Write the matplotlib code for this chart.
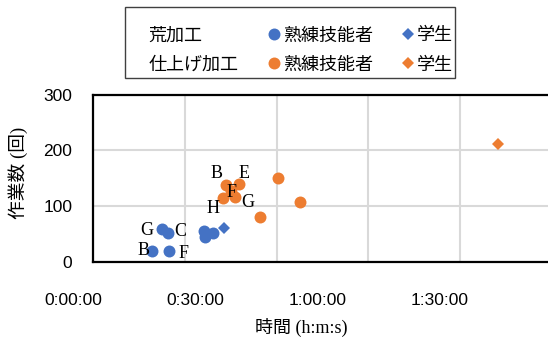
import matplotlib
matplotlib.use("Agg")
import matplotlib.pyplot as plt
from matplotlib.lines import Line2D
from matplotlib.patches import Rectangle
import numpy as np

# ------------------------------ Data ------------------------------

# times in minutes, counts in number of operations
rough_skilled_min = [21.8, 23.3, 19.4, 23.7, 32.2, 32.4, 34.4]
rough_skilled_cnt = [58, 51, 19, 19, 56, 45, 51]
rough_skilled_tags = ['G', 'C', 'B', 'F', '', '', '']

rough_student_min = [37.1]
rough_student_cnt = [60]

finish_skilled_min = [37.5, 40.8, 38.7, 36.9, 39.8, 50.3, 55.8, 45.9]
finish_skilled_cnt = [138, 140, 127, 115, 117, 151, 108, 81]
finish_skilled_tags = ['B', 'E', 'F', 'H', 'G', '', '', '']

finish_student_min = [104.4]
finish_student_cnt = [211]

time_ticks_min = [0, 30, 60, 90]
time_tick_labels = ['0:00:00', '0:30:00', '1:00:00', '1:30:00']
count_ticks = [0, 100, 200, 300]

BLUE = '#4472C4'
ORANGE = '#ED7D31'
CJK = ['Noto Sans CJK JP', 'DejaVu Sans']
SERIF_CJK = ['Liberation Serif', 'Noto Sans CJK JP']

# label offsets (points) for the operator tags
rough_offsets = {'G': (-10.6, -0.5), 'C': (8.9, 1.2), 'B': (-6.3, 0.7), 'F': (10.1, -1.7)}
finish_offsets = {'B': (-6.5, 7.9), 'E': (3.6, 7.7), 'F': (0.4, -0.9),
                  'H': (-7.2, -7.6), 'G': (9.1, -4.3)}

# ------------------------------ Plot ------------------------------

W, H = 548, 338
fig = plt.figure(figsize=(W / 100, H / 100), dpi=100)
ax = fig.add_axes([93.3 / W, 76.3 / H, 458.4 / W, 167.0 / H])

ax.set_xlim(5, 117.5)
ax.set_ylim(0, 300)
ax.set_xticks(np.arange(5, 118, 22.5))
ax.set_xticklabels([])
ax.set_yticks(count_ticks)
ax.set_yticklabels([str(v) for v in count_ticks], fontfamily='Liberation Sans', fontsize=12.5)
ax.tick_params(length=0, pad=15)
ax.grid(True, color='#d9d9d9', linewidth=1.5)
ax.set_axisbelow(True)
for side in ['left', 'top', 'bottom']:
    ax.spines[side].set_linewidth(1.6)
    ax.spines[side].set_color('black')
ax.spines['right'].set_visible(False)

ms = 74
dm = 6.5
ax.scatter(rough_skilled_min, rough_skilled_cnt, s=ms, color=BLUE, marker='o', linewidths=0, zorder=3)
ax.plot(rough_student_min, rough_student_cnt, 'D', color=BLUE, markersize=dm, markeredgewidth=0, zorder=3)
ax.scatter(finish_skilled_min, finish_skilled_cnt, s=ms, color=ORANGE, marker='o', linewidths=0, zorder=3)
ax.plot(finish_student_min, finish_student_cnt, 'D', color=ORANGE, markersize=dm, markeredgewidth=0, zorder=3)

for xs, ys, tags, offs in [(rough_skilled_min, rough_skilled_cnt, rough_skilled_tags, rough_offsets),
                           (finish_skilled_min, finish_skilled_cnt, finish_skilled_tags, finish_offsets)]:
    for x, y, t in zip(xs, ys, tags):
        if not t:
            continue
        ax.annotate(t, (x, y), xytext=offs[t], textcoords='offset points',
                    ha='center', va='center', fontfamily='Liberation Serif',
                    fontsize=13, zorder=4)

# time labels sit under the axis, starting left of the plot box
for m, lab in zip(time_ticks_min, time_tick_labels):
    ax.annotate(lab, (m, 0), xycoords=('data', 'axes fraction'), xytext=(0, -28),
                textcoords='offset points', ha='center', va='center',
                fontfamily='Liberation Sans', fontsize=12.5, annotation_clip=False)

fig.text(301 / W, 1 - 327 / H, '時間 (h:m:s)', family=SERIF_CJK, fontsize=13,
         ha='center', va='center')
fig.text(18 / W, 1 - 173 / H, '作業数 (回)', family=SERIF_CJK, fontsize=13.5,
         ha='center', va='center', rotation=90)

# legend: group names in the first column, worker types in the next two
blank = Line2D([], [], linestyle='none')
handles = [blank, blank,
           Line2D([], [], linestyle='none', marker='o', color=BLUE, markersize=8.6, markeredgewidth=0),
           Line2D([], [], linestyle='none', marker='o', color=ORANGE, markersize=8.6, markeredgewidth=0),
           Line2D([], [], linestyle='none', marker='D', color=BLUE, markersize=dm, markeredgewidth=0),
           Line2D([], [], linestyle='none', marker='D', color=ORANGE, markersize=dm, markeredgewidth=0)]
labels = ['荒加工', '仕上げ加工', '熟練技能者', '熟練技能者', '学生', '学生']
fig.legend(handles, labels, ncol=3, loc='upper left',
           bbox_to_anchor=(125 / W, 1 - 15.2 / H), borderaxespad=0,
           prop={'family': CJK, 'size': 13}, handlelength=0.4, handletextpad=0.3,
           columnspacing=1.75, labelspacing=0.62, borderpad=0.62, frameon=False)
# legend box drawn separately so the padding can differ top and bottom
fig.add_artist(Rectangle((125 / W, 1 - 78 / H), 330 / W, 71.3 / H, transform=fig.transFigure,
                         fill=False, edgecolor='#404040', linewidth=1.0))

fig.savefig('out.png', dpi=100)
